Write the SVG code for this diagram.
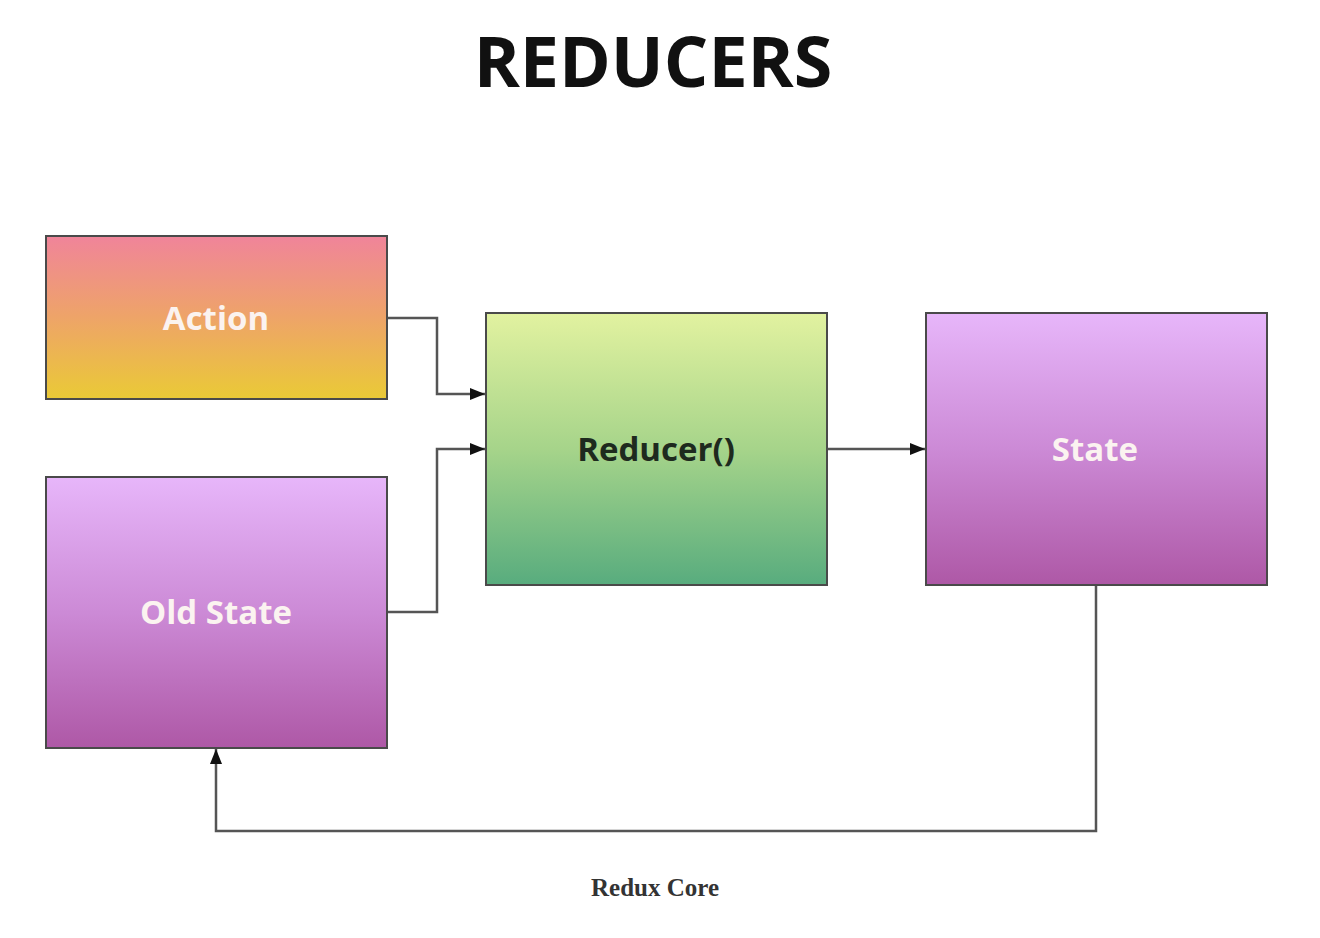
<svg xmlns="http://www.w3.org/2000/svg" width="1320" height="938" viewBox="0 0 1320 938">
<style>
.box{stroke:#4a4a4a;stroke-width:2}
.lbl{font-family:"Open Sans","Liberation Sans",sans-serif;font-weight:bold;font-size:33px;text-anchor:middle;dominant-baseline:central}
.light{fill:#fbf3f0}
.dark{fill:#1e2a1e}
.conn{fill:none;stroke:#555;stroke-width:2.5}
</style>
<defs>
<linearGradient id="gAction" x1="0" y1="0" x2="0" y2="1">
<stop offset="0" stop-color="#f0849a"/><stop offset="0.5" stop-color="#eea468"/><stop offset="1" stop-color="#eaca36"/>
</linearGradient>
<linearGradient id="gPurple" x1="0" y1="0" x2="0" y2="1">
<stop offset="0" stop-color="#e7b6fa"/><stop offset="0.5" stop-color="#cc8ad6"/><stop offset="1" stop-color="#ae58a6"/>
</linearGradient>
<linearGradient id="gGreen" x1="0" y1="0" x2="0" y2="1">
<stop offset="0" stop-color="#e2f2a0"/><stop offset="0.5" stop-color="#a6d48a"/><stop offset="1" stop-color="#58ac7e"/>
</linearGradient>
<marker id="arr" viewBox="0 0 10 10" refX="10" refY="5" markerWidth="6" markerHeight="6" markerUnits="strokeWidth" orient="auto">
<path d="M0,1 L10,5 L0,9 z" fill="#111"/>
</marker>
</defs>
<rect width="1320" height="938" fill="#ffffff"/>
<text x="653" y="87" font-family="Open Sans,Liberation Sans,sans-serif" font-weight="bold" font-size="70" text-anchor="middle" fill="#111">REDUCERS</text>
<g id="connectors">
<path class="conn" d="M387,318 H437 V394 H485" marker-end="url(#arr)"/>
<path class="conn" d="M387,612 H437 V449 H485" marker-end="url(#arr)"/>
<path class="conn" d="M827,449 H925" marker-end="url(#arr)"/>
<path class="conn" d="M1096,585 V831 H216 V749" marker-end="url(#arr)"/>
</g>
<g id="action">
<rect class="box" x="46" y="236" width="341" height="163" fill="url(#gAction)"/>
<text class="lbl light" x="216" y="317">Action</text>
</g>
<g id="oldstate">
<rect class="box" x="46" y="477" width="341" height="271" fill="url(#gPurple)"/>
<text class="lbl light" x="216" y="611">Old State</text>
</g>
<g id="reducer">
<rect class="box" x="486" y="313" width="341" height="272" fill="url(#gGreen)"/>
<text class="lbl dark" x="656" y="448">Reducer()</text>
</g>
<g id="state">
<rect class="box" x="926" y="313" width="341" height="272" fill="url(#gPurple)"/>
<text class="lbl light" x="1095" y="448">State</text>
</g>
<text x="655" y="896" font-family="Liberation Serif,serif" font-weight="bold" font-size="25" text-anchor="middle" fill="#333">Redux Core</text>
</svg>
